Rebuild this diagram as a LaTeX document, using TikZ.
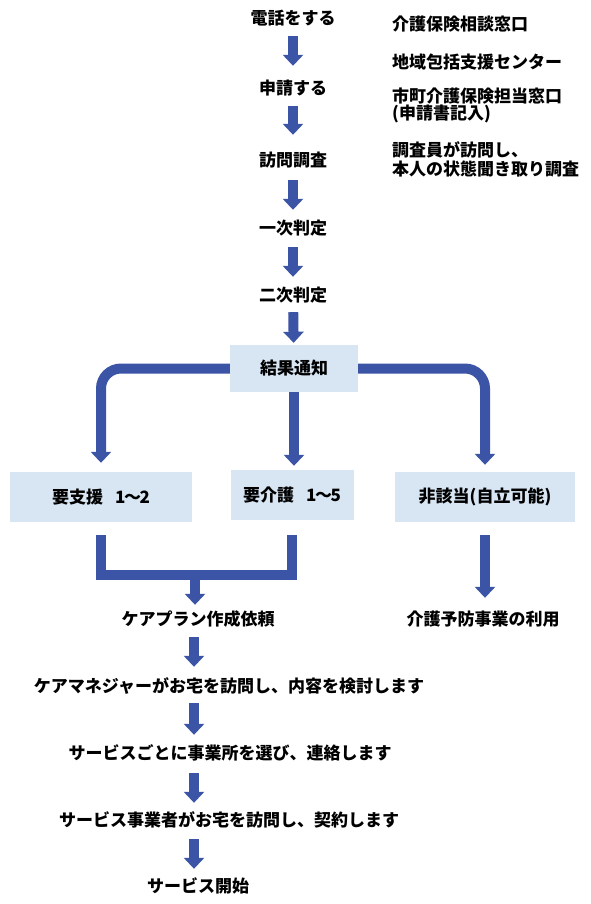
\documentclass[tikz,border=0pt]{standalone}
\usepackage{fontspec}
\newfontfamily\jp{Noto Sans CJK JP}
\usetikzlibrary{arrows.meta}
\definecolor{abl}{RGB}{59,84,165}
\definecolor{bxf}{RGB}{216,230,244}
\begin{document}
\begin{tikzpicture}[x=1pt,y=-1pt,
  txt/.style={inner sep=0pt, minimum height=20pt, font=\jp\bfseries\fontsize{17}{20}\selectfont},
  note/.style={txt, anchor=west},
  bx/.style={txt, fill=bxf, draw=none},
  darr/.style={draw=abl, line width=10pt, -{Triangle[width=20pt,length=11pt]}},
  bar/.style={draw=abl, line width=10pt, line join=miter}]
\fill[white] (0,0) rectangle (590,904);
\useasboundingbox (0,0) rectangle (590,904);
% main chain
\node[txt] (call)  at (293,18)  {電話をする};
\node[txt] (apply) at (293,88)  {申請する};
\node[txt] (visit) at (293,160) {訪問調査};
\node[txt] (j1)    at (293,228) {一次判定};
\node[txt] (j2)    at (293,295) {二次判定};
\node[bx, minimum width=128pt, minimum height=47pt] (res) at (294,368.5) {結果通知};
\node[bx, minimum width=182pt, minimum height=50pt] (yos) at (101,497) {要支援\hspace{12pt}1\hspace{-1.5pt}～\hspace{-1.5pt}2};
\node[bx, minimum width=123pt, minimum height=50pt] (kai) at (292,495) {要介護\hspace{12pt}1\hspace{-1.5pt}～\hspace{-1.5pt}5};
\node[bx, minimum width=180pt, minimum height=50pt] (hi)  at (485,497) {非該当(自立可能)};
\node[txt] (cp) at (198,619) {ケアプラン作成依頼};
\node[txt] (yb) at (483,619) {介護予防事業の利用};
\node[txt] (km) at (229,686) {ケアマネジャーがお宅を訪問し、内容を検討します};
\node[txt] (sv) at (230,753) {サービスごとに事業所を選び、連絡します};
\node[txt] (jg) at (229,820) {サービス事業者がお宅を訪問し、契約します};
\node[txt] (st) at (198,886) {サービス開始};
% notes
\node[note] (n1) at (392,24)  {介護保険相談窓口};
\node[note] (n2) at (392,62)  {地域包括支援センター};
\node[note] (n3) at (392,96)  {市町介護保険担当窓口};
\node[note] (n4) at (392,114) {(申請書記入)};
\node[note] (n5) at (392,150) {調査員が訪問し、};
\node[note] (n6) at (392,169) {本人の状態聞き取り調査};
% arrows top chain
\draw[darr, shorten <=8pt, shorten >=12pt] (call) -- (apply);
\draw[darr, shorten <=8pt, shorten >=15pt] (apply) -- (visit);
\draw[darr, shorten <=10pt, shorten >=8pt] (visit) -- (j1);
\draw[darr, shorten <=9pt, shorten >=8pt] (j1) -- (j2);
\draw[darr, shorten <=7pt, shorten >=2pt] (j2) -- (res);
% branches
\draw[darr, rounded corners=20pt, shorten >=9pt] (res.west) -| (yos.north);
\draw[darr, shorten >=4pt] (res.south) -- (res.south |- kai.north);
\draw[darr, rounded corners=20pt, shorten >=7pt] (res.east) -| (hi.north);
% merge
\coordinate (jn) at (195,575);
\draw[bar] ([yshift=-13pt]yos.south) |- (jn) -| ([yshift=-15pt]kai.south);
\draw[darr, shorten >=4pt] (jn) -- (jn |- cp.north);
\draw[darr, shorten >=11pt] ([yshift=-13pt]hi.south) -- (hi.south |- yb.north);
% lower chain
\coordinate (ax) at (194,0);
\draw[darr, shorten <=8pt, shorten >=9pt] (cp.south -| ax) -- (km.north -| ax);
\draw[darr, shorten <=7pt, shorten >=8pt] (km.south -| ax) -- (sv.north -| ax);
\draw[darr, shorten <=10pt, shorten >=7pt] (sv.south -| ax) -- (jg.north -| ax);
\draw[darr, shorten <=9pt, shorten >=7pt] (jg.south -| ax) -- (st.north -| ax);
\end{tikzpicture}
\end{document}
